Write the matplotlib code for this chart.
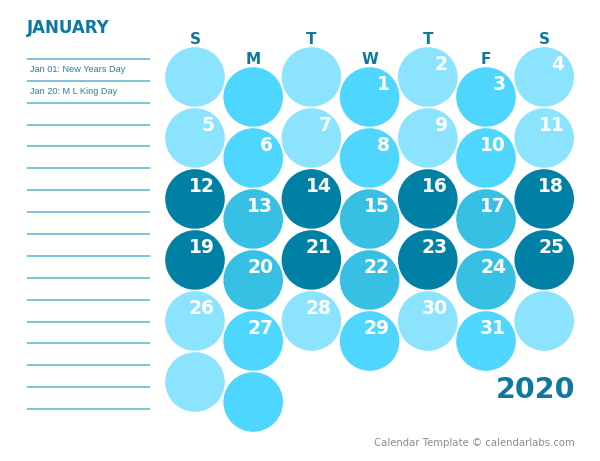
import numpy as np
import matplotlib
matplotlib.use('Agg')
import matplotlib.pyplot as plt
from matplotlib.patches import Circle

# data ========================================================================
month = 'JANUARY'
year = '2020'
weekdays = ['S', 'M', 'T', 'W', 'T', 'F', 'S']
first_weekday = 3          # Jan 1 2020 is a Wednesday
n_days = 31
n_rows = 5
extra_cells = [(0, 5), (1, 5)]   # (column, row) circles hanging below the grid
holidays = ['Jan 01: New Years Day', 'Jan 20: M L King Day']
n_note_lines = 17
footer = 'Calendar Template \u00a9 calendarlabs.com'

# colours
light = '#8be3fd'
bright = '#4ed6fe'
dark = '#0080a4'
mid_dark = '#38bfe4'
title_blue = '#0e78a0'
line_blue = '#5cb4d0'

# layout (pixel units) ========================================================
W, H = 600, 461
x0, dx = 195, 58.2
y_even, y_odd, dy = 77, 97, 61
radius = 30.5

fig = plt.figure(figsize=(W / 100, H / 100), dpi=100)
ax = fig.add_axes([0, 0, 1, 1])
ax.set_xlim(0, W)
ax.set_ylim(H, 0)
ax.axis('off')


def cell_center(col, row):
    y = y_even if col % 2 == 0 else y_odd
    return x0 + col * dx, y + row * dy


def cell_colour(col, row):
    if row in (2, 3):
        return dark if col % 2 == 0 else mid_dark
    return light if col % 2 == 0 else bright


cells = [(c, r) for r in range(n_rows) for c in range(7)] + extra_cells
for c, r in cells:
    cx, cy = cell_center(c, r)
    ax.add_patch(Circle((cx, cy), radius, facecolor=cell_colour(c, r),
                        edgecolor='white', linewidth=1.0))
    idx = r * 7 + c - first_weekday + 1
    if r < n_rows and 1 <= idx <= n_days:
        ax.text(cx + 20, cy - 13, str(idx), ha='right', va='center',
                color='white', fontsize=13.5, fontweight='bold',
                family='DejaVu Sans')

# weekday headers
for c, d in enumerate(weekdays):
    cx, cy = cell_center(c, 0)
    ax.text(cx, cy - 38, d, ha='center', va='center', color=title_blue,
            fontsize=11, fontweight='bold')

# left panel
ax.text(27, 28, month, ha='left', va='center', color=title_blue,
        fontsize=12, fontweight='bold')
line_y = 59 + np.arange(n_note_lines) * 21.875
for y in line_y:
    ax.plot([27, 150], [y, y], color=line_blue, lw=1.1,
            solid_capstyle='butt')
for i, h in enumerate(holidays):
    ax.text(30, (line_y[i] + line_y[i + 1]) / 2, h, ha='left', va='center',
            color='#2a7fa6', fontsize=6.6, family='Liberation Sans')

# year and footer
ax.text(575, 390, year, ha='right', va='center', color=title_blue,
        fontsize=20.5, fontweight='bold')
ax.text(575, 443, footer, ha='right', va='center', color='#8a8a8a',
        fontsize=7.3)

fig.savefig('out.png', dpi=100)
